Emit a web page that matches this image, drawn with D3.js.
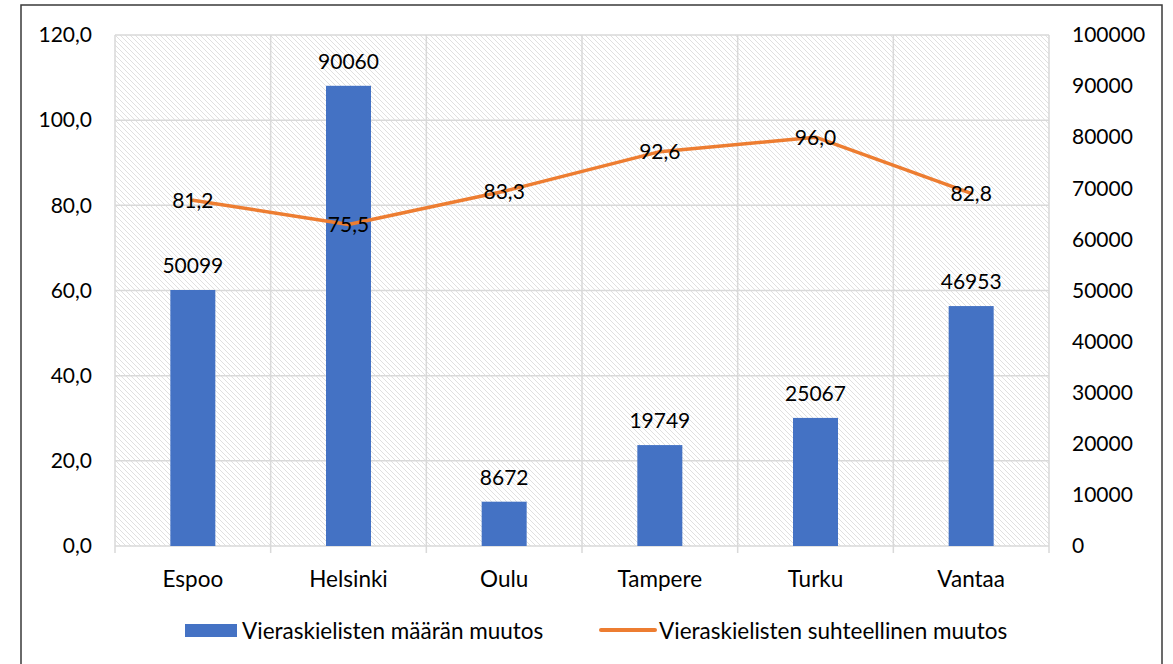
<!DOCTYPE html>
<html>
<head>
<meta charset="utf-8">
<script src="https://cdn.jsdelivr.net/npm/d3@7"></script>
<style>
  html, body { margin: 0; padding: 0; background: #fff; }
  svg { display: block; font-family: Lato, "Open Sans", sans-serif; }
</style>
</head>
<body>
<svg id="chart" width="1173" height="664"></svg>
<script>
// Kunnat ja muutosluvut
const categories = ["Espoo", "Helsinki", "Oulu", "Tampere", "Turku", "Vantaa"];
const countChange = [50099, 90060, 8672, 19749, 25067, 46953];      // oikea akseli
const relativeChange = [81.2, 75.5, 83.3, 92.6, 96.0, 82.8];        // vasen akseli
const leftTicks = [0, 20, 40, 60, 80, 100, 120];
const rightTicks = [0, 10000, 20000, 30000, 40000, 50000, 60000, 70000, 80000, 90000, 100000];
const seriesNames = ["Vieraskielisten määrän muutos", "Vieraskielisten suhteellinen muutos"];

const fi = d3.formatLocale({ decimal: ",", thousands: "", grouping: [3], currency: ["", "€"] });
const fmt1 = fi.format(".1f");

const svg = d3.select("#chart");
const plot = { left: 115, top: 35, right: 1049, bottom: 546 };
const gridColor = "#d9d9d9";
const barColor = "#4472C4";
const lineColor = "#ED7D31";
const numSize = 21;     // numbers
const textSize = 22.5;  // words

// Chart frame
svg.append("rect")
  .attr("x", 21).attr("y", 5).attr("width", 1141).attr("height", 670)
  .attr("fill", "#fff").attr("stroke", "#3a3a3a").attr("stroke-width", 1.5);

// Diagonal hatch for the plot area
const defs = svg.append("defs");
const hs = 5;
const pat = defs.append("pattern")
  .attr("id", "hatch").attr("patternUnits", "userSpaceOnUse")
  .attr("width", hs).attr("height", hs);
pat.append("path")
  .attr("d", `M-1,-1 L${hs + 1},${hs + 1} M${hs - 1},-1 L${hs + 1},1 M-1,${hs - 1} L1,${hs + 1}`)
  .attr("stroke", "#e0e0e0").attr("stroke-width", 1);

svg.append("rect")
  .attr("x", plot.left).attr("y", plot.top)
  .attr("width", plot.right - plot.left).attr("height", plot.bottom - plot.top)
  .attr("fill", "url(#hatch)");

// Scales
const x = d3.scaleBand().domain(categories).range([plot.left, plot.right]).paddingInner(0).paddingOuter(0);
const yL = d3.scaleLinear().domain([0, 120]).range([plot.bottom, plot.top]);
const yR = d3.scaleLinear().domain([0, 100000]).range([plot.bottom, plot.top]);

// Horizontal gridlines
svg.append("g").selectAll("line").data(leftTicks).join("line")
  .attr("x1", plot.left).attr("x2", plot.right)
  .attr("y1", d => yL(d)).attr("y2", d => yL(d))
  .attr("stroke", gridColor).attr("stroke-width", 1.5);

// Vertical gridlines at category boundaries, extending as tick marks below the axis
const bounds = categories.map(c => x(c)).concat([plot.right]);
svg.append("g").selectAll("line").data(bounds).join("line")
  .attr("x1", d => d).attr("x2", d => d)
  .attr("y1", plot.top).attr("y2", plot.bottom + 7)
  .attr("stroke", gridColor).attr("stroke-width", 1.5);

// Left axis labels
const axisL = d3.axisLeft(yL).tickValues(leftTicks).tickFormat(fmt1).tickSize(0).tickPadding(23);
const gL = svg.append("g").attr("transform", `translate(${plot.left},0)`).call(axisL);
gL.select(".domain").remove();
gL.selectAll("text").attr("font-size", numSize).attr("fill", "#000").attr("font-family", "Lato, sans-serif");

// Right axis labels
const axisR = d3.axisRight(yR).tickValues(rightTicks).tickFormat(d3.format("d")).tickSize(0).tickPadding(23);
const gR = svg.append("g").attr("transform", `translate(${plot.right},0)`).call(axisR);
gR.select(".domain").remove();
gR.selectAll("text").attr("font-size", numSize).attr("fill", "#000").attr("font-family", "Lato, sans-serif");

// Category labels
const axisB = d3.axisBottom(x).tickSize(0).tickPadding(25);
const gB = svg.append("g").attr("transform", `translate(0,${plot.bottom})`).call(axisB);
gB.select(".domain").remove();
gB.selectAll("text").attr("font-size", textSize).attr("fill", "#000").attr("font-family", "Lato, sans-serif");

// Bars
const barW = 45;
const data = categories.map((c, i) => ({ c, n: countChange[i], r: relativeChange[i] }));
svg.append("g").selectAll("rect").data(data).join("rect")
  .attr("x", d => x(d.c) + x.bandwidth() / 2 - barW / 2)
  .attr("width", barW)
  .attr("y", d => yR(d.n))
  .attr("height", d => yR(0) - yR(d.n))
  .attr("fill", barColor);

// Bar value labels
svg.append("g").selectAll("text").data(data).join("text")
  .attr("x", d => x(d.c) + x.bandwidth() / 2)
  .attr("y", d => yR(d.n) - 17)
  .attr("text-anchor", "middle")
  .attr("font-size", numSize).attr("fill", "#000")
  .text(d => d.n);

// Line
const line = d3.line()
  .x(d => x(d.c) + x.bandwidth() / 2)
  .y(d => yL(d.r));
svg.append("path").datum(data)
  .attr("d", line).attr("fill", "none")
  .attr("stroke", lineColor).attr("stroke-width", 3.5)
  .attr("stroke-linejoin", "round").attr("stroke-linecap", "round");

// Line value labels, centred on the points
svg.append("g").selectAll("text").data(data).join("text")
  .attr("x", d => x(d.c) + x.bandwidth() / 2)
  .attr("y", d => yL(d.r))
  .attr("dy", "0.35em")
  .attr("text-anchor", "middle")
  .attr("font-size", numSize).attr("fill", "#000")
  .text(d => fmt1(d.r));

// Legend
const lg = svg.append("g");
lg.append("rect").attr("x", 185).attr("y", 624).attr("width", 52).attr("height", 13).attr("fill", barColor);
lg.append("text").attr("x", 242).attr("y", 631).attr("dy", "0.35em")
  .attr("font-size", textSize).attr("fill", "#000").text(seriesNames[0]);
lg.append("line").attr("x1", 601).attr("x2", 655).attr("y1", 630).attr("y2", 630)
  .attr("stroke", lineColor).attr("stroke-width", 4).attr("stroke-linecap", "round");
lg.append("text").attr("x", 659).attr("y", 631).attr("dy", "0.35em")
  .attr("font-size", textSize).attr("fill", "#000").text(seriesNames[1]);
</script>
</body>
</html>
